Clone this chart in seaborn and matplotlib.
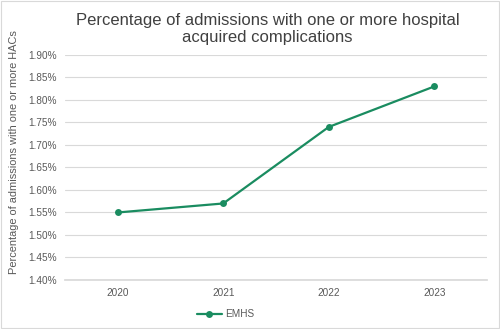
import matplotlib
matplotlib.use("Agg")
import matplotlib.pyplot as plt
import seaborn as sns
import pandas as pd
from matplotlib.ticker import FuncFormatter, MultipleLocator
from matplotlib.patches import Rectangle

years = ["2020", "2021", "2022", "2023"]
values = [1.55, 1.57, 1.74, 1.83]
series = "EMHS"

sns.set_theme(style="white")
plt.rcParams['font.family'] = ['Liberation Sans', 'DejaVu Sans']

df = pd.DataFrame({"Year": years, "Value": values, "Series": series})

fig = plt.figure(figsize=(5.0, 3.29), dpi=100)
ax = fig.add_axes([0.13, 0.149, 0.844, 0.684])
green = "#1a8c60"
sns.lineplot(data=df, x="Year", y="Value", hue="Series", palette=[green],
             marker="o", markersize=5, markeredgewidth=0, linewidth=1.6,
             ax=ax, sort=False)

ax.set_ylim(1.40, 1.90)
ax.set_xlim(-0.5, 3.5)
ax.yaxis.set_major_locator(MultipleLocator(0.05))
ax.yaxis.set_major_formatter(FuncFormatter(lambda v, p: f"{v:.2f}%"))
ax.grid(axis="y", color="#d9d9d9", linewidth=0.8)
ax.set_axisbelow(True)
for s in ["top", "right", "left"]:
    ax.spines[s].set_visible(False)
ax.spines["bottom"].set_color("#d9d9d9")
ax.tick_params(axis="both", labelsize=7.2, colors="#595959", length=0, pad=6)
ax.set_xlabel("")
ax.set_ylabel("Percentage of admissions with one or more HACs", fontsize=7.9,
              color="#595959")
ax.yaxis.set_label_coords(-0.109, 0.57)
fig.suptitle("Percentage of admissions with one or more hospital\nacquired complications",
             fontsize=12, color="#404040", y=0.962, x=0.535, linespacing=1.22)
leg = ax.legend(loc="upper center", bbox_to_anchor=(0.38, -0.09), frameon=False,
                fontsize=7.2, handlelength=2.5, handletextpad=0.3)
for t in leg.get_texts():
    t.set_color("#595959")

fig.patches.append(Rectangle((0.002, 0.003), 0.996, 0.994, transform=fig.transFigure,
                             fill=False, edgecolor="#d9d9d9", linewidth=0.8))
fig.savefig("out.png", dpi=100)
